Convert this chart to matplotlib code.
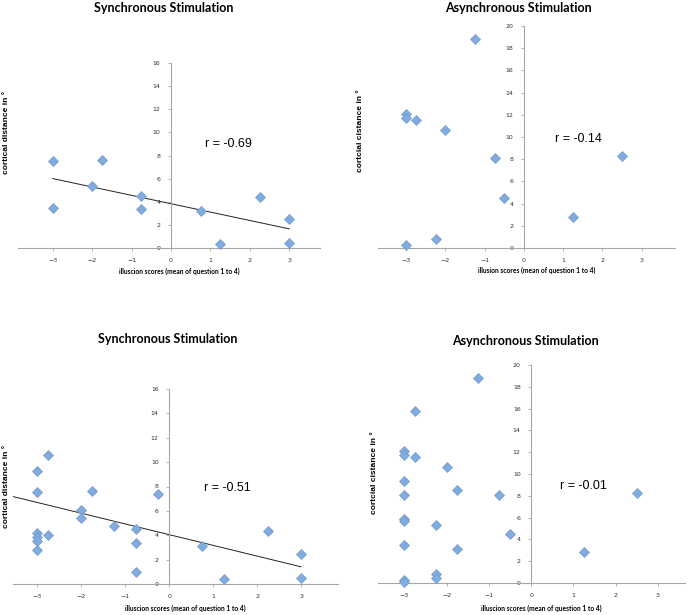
import numpy as np
import matplotlib
matplotlib.use("Agg")
import matplotlib.pyplot as plt

# top row: first-session data
sync1_x = [-3, -3, -2, -1.75, -0.75, -0.75, 0.75, 1.25, 2.25, 3, 3]
sync1_y = [7.5, 3.5, 5.4, 7.6, 4.5, 3.35, 3.2, 0.35, 4.4, 2.5, 0.45]

async1_x = [-3, -3, -2.75, -2, -1.25, -0.75, -0.5, -3, -2.25, 1.25, 2.5]
async1_y = [12.05, 11.7, 11.55, 10.65, 18.85, 8.15, 4.5, 0.25, 0.8, 2.8, 8.25]

# bottom row: all data
sync2_x = [-3, -3, -3, -3, -3, -3, -2.75, -2.75, -2, -2, -1.75, -1.25,
           -0.75, -0.75, -0.75, -0.25, 0.75, 1.25, 2.25, 3, 3]
sync2_y = [9.3, 7.55, 4.15, 3.85, 3.5, 2.75, 10.6, 4.0, 6.1, 5.4, 7.6, 4.75,
           4.55, 3.35, 0.95, 7.35, 3.15, 0.4, 4.35, 2.5, 0.5]

async2_x = [-3, -3, -3, -3, -3, -3, -3, -3, -3, -2.75, -2.75, -2.25, -2.25,
            -2.25, -2, -1.75, -1.75, -1.25, -0.75, -0.5, 1.25, 2.5]
async2_y = [12.1, 11.75, 9.35, 8.1, 5.9, 5.65, 3.45, 0.25, 0.08, 15.8, 11.55,
            5.35, 0.8, 0.5, 10.6, 8.5, 3.15, 18.85, 8.1, 4.5, 2.8, 8.25]

# linear trend lines as shown in the chart (slope, intercept)
trend_coef = [(-0.725, 3.83), None, (-0.88, 4.05), None]
trend_range = [(-3, 3), None, (-3.55, 3), None]

titles = ["Synchronous Stimulation", "Asynchronous Stimulation",
          "Synchronous Stimulation", "Asynchronous Stimulation"]
xlabels = ["illuscion scores (mean of question 1 to 4)",
           "illusion scores (mean of question 1 to 4)",
           "illuscion scores (mean of question 1 to 4)",
           "illuscion scores (mean of question 1 to 4)"]
ylabels = ["cortical distance in °", "cortcial cistance in °",
           "cortical distance in °", "cortcial cistance in °"]
r_labels = ["r = -0.69", "r = -0.14", "r = -0.51", "r = -0.01"]

W, H = 689, 615
fig = plt.figure(figsize=(W / 100, H / 100), dpi=100)

# pixel boxes (left, right, top, bottom) of each plot area
boxes = [(18, 320, 63, 248), (378, 675, 26, 248),
         (13, 338, 389, 584), (378, 685, 365, 583)]
xlims = [(-3.88, 3.78), (-3.72, 3.85), (-3.55, 3.84), (-3.62, 3.64)]
ymaxs = [16, 20, 16, 20]
r_pos = [(1.45, 9.0), (1.4, 9.8), (1.32, 7.9), (1.25, 8.9)]
title_pos = [(164, 8), (518, 8), (168, 339), (525, 341)]
xlabel_y = [271, 270, 608, 608]
ylabel_xy = [(7, 132), (360, 131), (7, 486), (375, 473)]

data = [(sync1_x, sync1_y), (async1_x, async1_y),
        (sync2_x, sync2_y), (async2_x, async2_y)]

for i, (xs, ys) in enumerate(data):
    l, r, t, b = boxes[i]
    ax = fig.add_axes([l / W, 1 - b / H, (r - l) / W, (b - t) / H])
    ax.set_xlim(*xlims[i])
    ax.set_ylim(0, ymaxs[i])
    for s in ["top", "right"]:
        ax.spines[s].set_visible(False)
    ax.spines["left"].set_position(("data", 0))
    ax.spines["bottom"].set_position(("data", 0))
    for s in ["left", "bottom"]:
        ax.spines[s].set_color("#a6a6a6")
        ax.spines[s].set_linewidth(0.8)
    ax.set_xticks(range(-3, 4))
    ax.set_yticks(range(0, ymaxs[i] + 1, 2))
    ax.tick_params(colors="#a6a6a6", labelcolor="#333333", labelsize=4.5,
                   length=2.5, width=0.6, direction="out", pad=5)

    if trend_coef[i] is not None:
        k, c = trend_coef[i]
        tx = np.array(trend_range[i])
        ax.plot(tx, k * tx + c, color="#222222", lw=0.7, zorder=2)

    ax.plot(xs, ys, "D", ms=5.3, mfc="#82acde", mec="#6f9bd1", mew=0.5,
            zorder=3, clip_on=False)
    ax.text(r_pos[i][0], r_pos[i][1], r_labels[i], ha="center", va="center",
            fontsize=9, family="Liberation Sans")

    fig.text(title_pos[i][0] / W, 1 - title_pos[i][1] / H, titles[i],
             ha="center", va="center", fontsize=9, fontweight="bold",
             family="Lato")
    fig.text(((l + r) / 2 + 10) / W, 1 - xlabel_y[i] / H, xlabels[i],
             ha="center", va="center", fontsize=4.8, fontweight="bold",
             family="Lato")
    fig.text(ylabel_xy[i][0] / W, 1 - ylabel_xy[i][1] / H, ylabels[i],
             ha="center", va="center", rotation=90, fontsize=6,
             fontweight="bold", family="Liberation Sans")

fig.savefig("out.png", dpi=100, facecolor="white")
